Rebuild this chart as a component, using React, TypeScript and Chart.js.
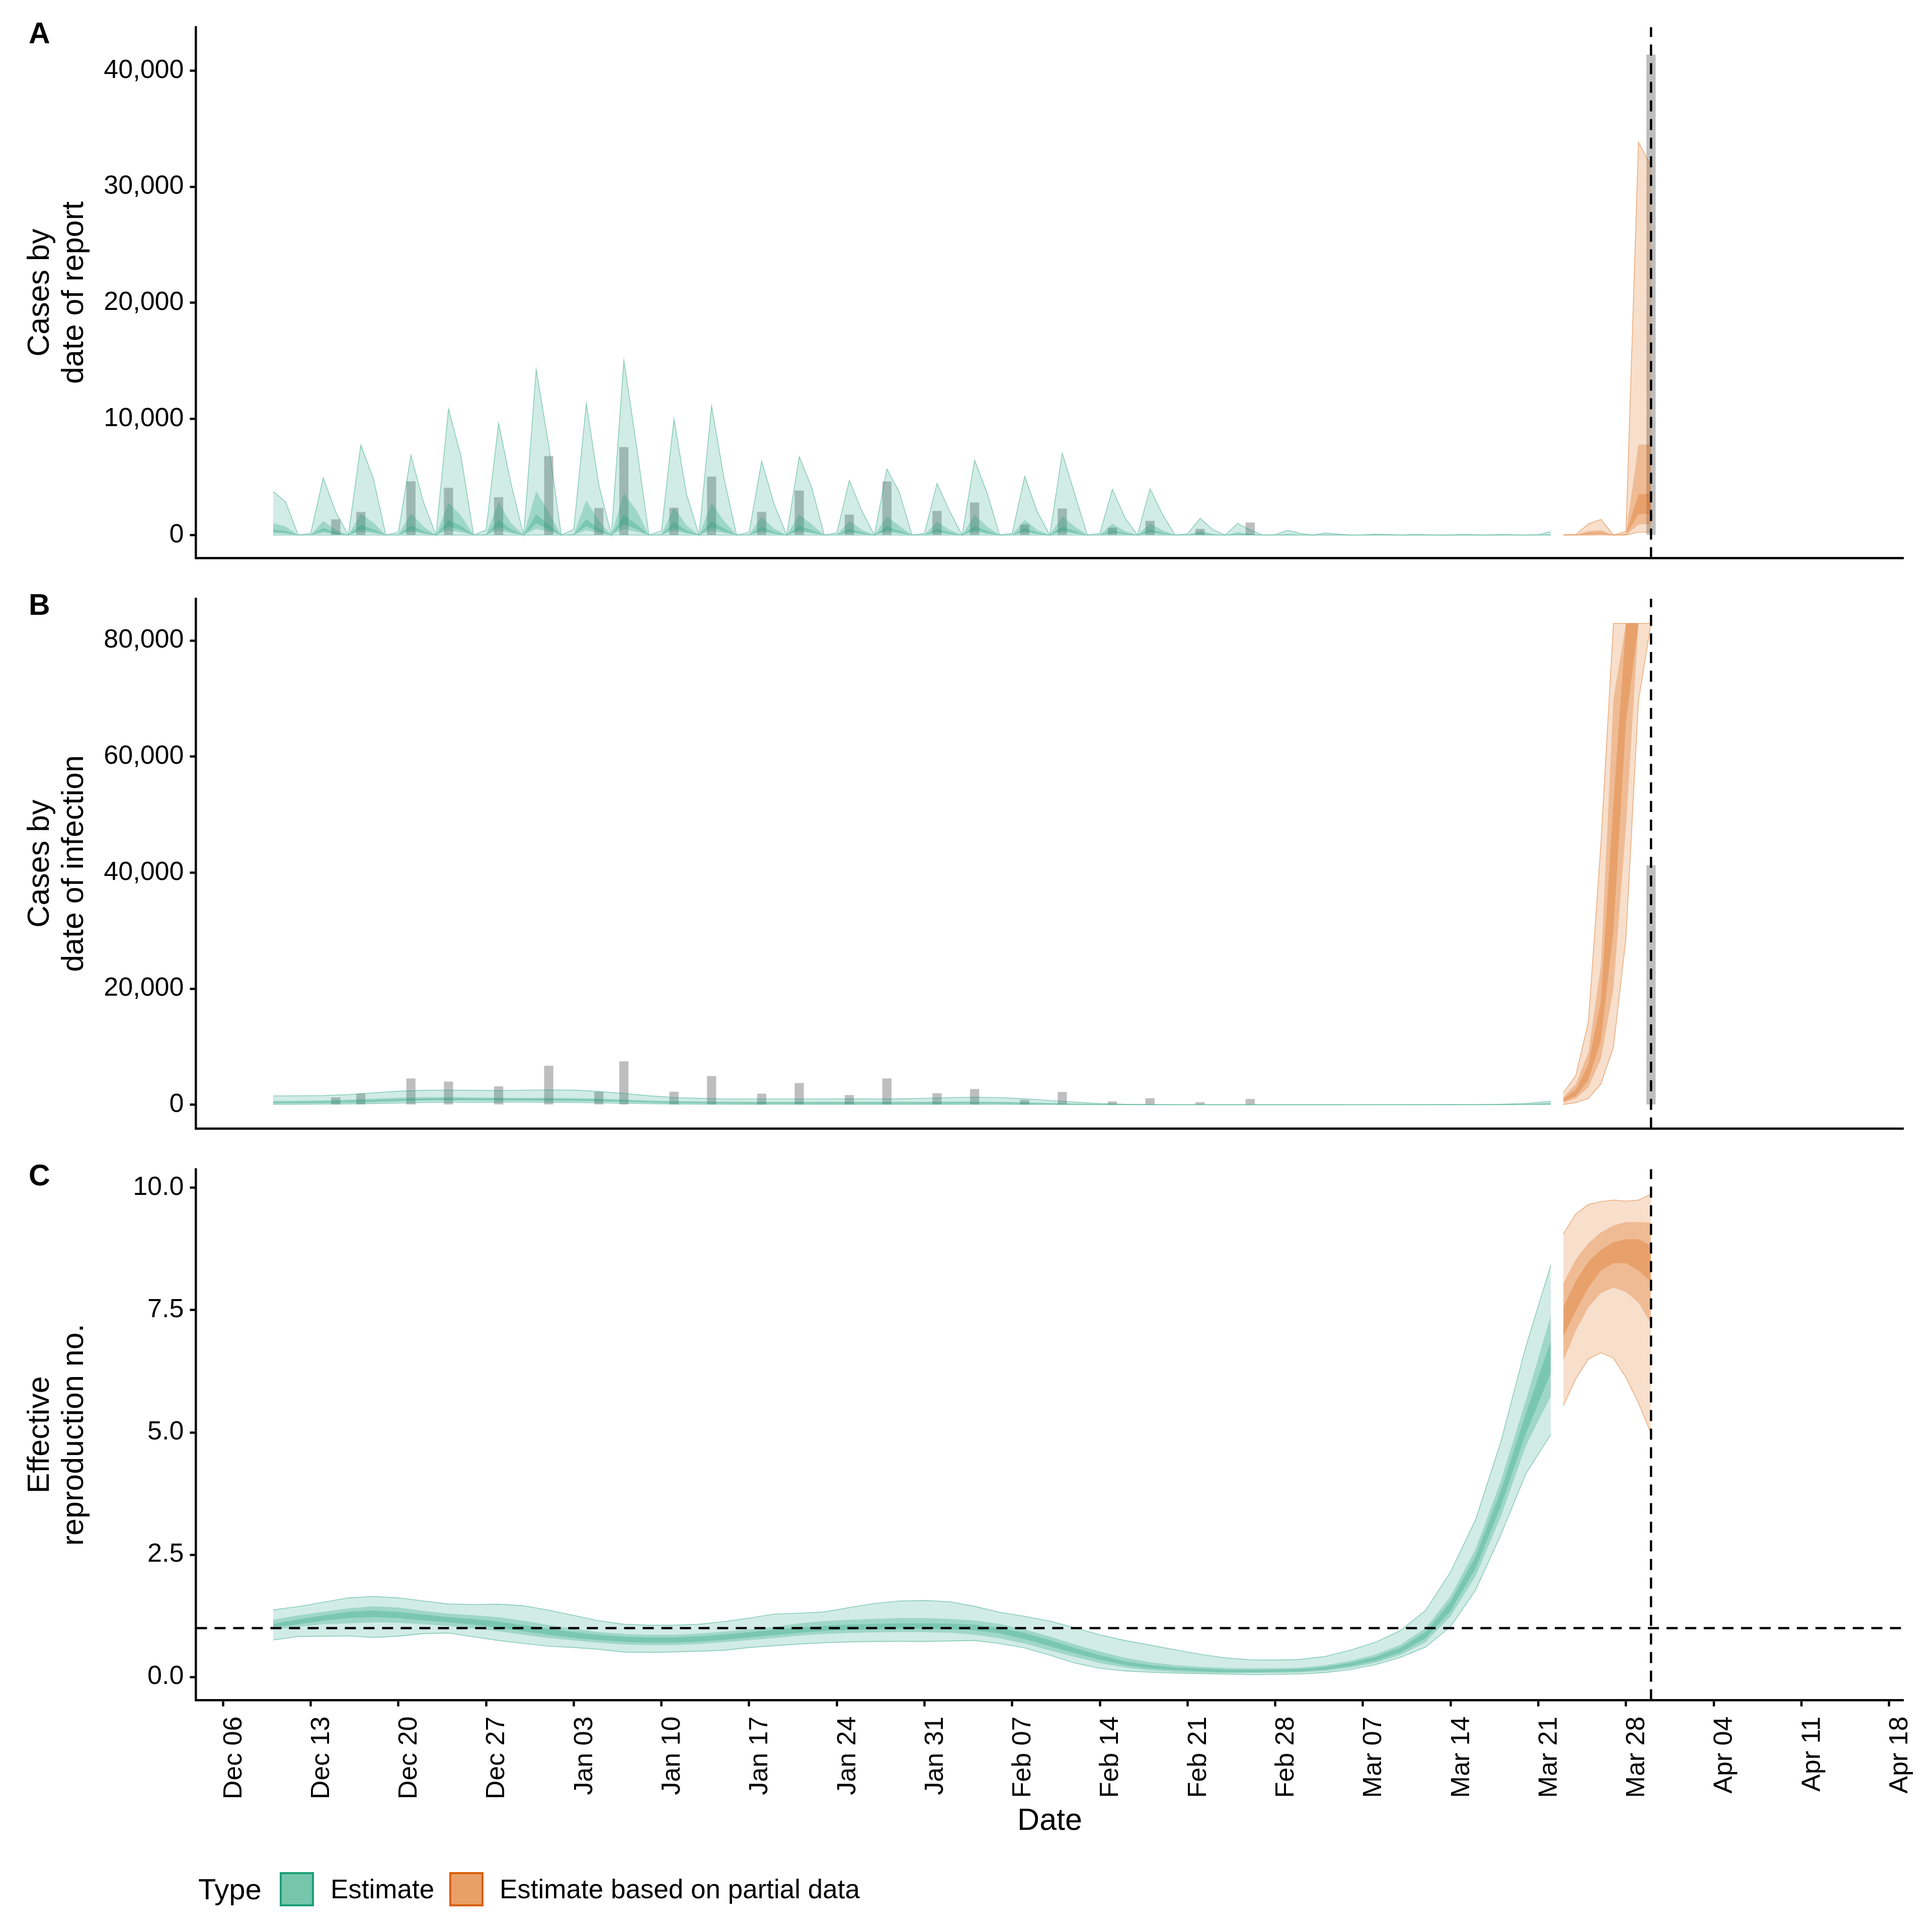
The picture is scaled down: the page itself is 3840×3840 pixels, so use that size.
import React, { useEffect, useRef } from 'react';
import { Chart, registerables } from 'chart.js';

Chart.register(...registerables);

// ---------- categories / dates ----------
const X_ORIGIN = '2020-12-06';
const estimateStart = '2020-12-10'; // daily estimates (report panel) to 2021-03-22
const partialStart = '2021-03-23'; // partial-data estimates to 2021-03-30
const smoothStart = '2020-12-10'; // infection / Rt estimates, every second day to 2021-03-22
const forecastDate = '2021-03-30';
const rtThreshold = 1;

const dateTicks = [
  '2020-12-06', '2020-12-13', '2020-12-20', '2020-12-27', '2021-01-03', '2021-01-10', '2021-01-17',
  '2021-01-24', '2021-01-31', '2021-02-07', '2021-02-14', '2021-02-21', '2021-02-28', '2021-03-07',
  '2021-03-14', '2021-03-21', '2021-03-28', '2021-04-04', '2021-04-11', '2021-04-18',
];
const dateTickLabels = [
  'Dec 06', 'Dec 13', 'Dec 20', 'Dec 27', 'Jan 03', 'Jan 10', 'Jan 17', 'Jan 24', 'Jan 31', 'Feb 07',
  'Feb 14', 'Feb 21', 'Feb 28', 'Mar 07', 'Mar 14', 'Mar 21', 'Mar 28', 'Apr 04', 'Apr 11', 'Apr 18',
];

// ---------- observed reported cases (grey bars) ----------
const reportDates = [
  '2020-12-15', '2020-12-17', '2020-12-21', '2020-12-24', '2020-12-28', '2021-01-01', '2021-01-05',
  '2021-01-07', '2021-01-11', '2021-01-14', '2021-01-18', '2021-01-21', '2021-01-25', '2021-01-28',
  '2021-02-01', '2021-02-04', '2021-02-08', '2021-02-11', '2021-02-15', '2021-02-18', '2021-02-22',
  '2021-02-26', '2021-03-30',
];
const reportedCases = [
  1440, 2080, 4710, 4160, 3350, 6890, 2420, 7660, 2440, 5120, 2080, 3920, 1850, 4710, 2170, 2890, 1000,
  2370, 730, 1310, 620, 1170, 41470,
];

// ---------- A: cases by date of report (daily, Thu..Wed rows) ----------
const repU90 = [
  3750, 2850, 0, 150, 4925, 1980, 0,
  7750, 4870, 0, 250, 6870, 2850, 0,
  10870, 6750, 0, 440, 9640, 4390, 0,
  14260, 7750, 0, 500, 11330, 4340, 0,
  15060, 7750, 0, 350, 9970, 3520, 0,
  11120, 4870, 0, 250, 6370, 2650, 0,
  6750, 4100, 0, 190, 4710, 2080, 0,
  5690, 3670, 0, 150, 4440, 2080, 0,
  6450, 3620, 0, 150, 5060, 2020, 0,
  7040, 3520, 0, 150, 3940, 1500, 0,
  4000, 1790, 0, 100, 1440, 480, 0,
  1000, 440, 0, 30, 420, 150, 0,
  180, 80, 0, 10, 80, 40, 0,
  40, 20, 0, 5, 40, 20, 0,
  50, 20, 0, 30, 300,
];
const repU50 = [
  1020, 730, 0, 30, 1210, 440, 0,
  1830, 1080, 0, 50, 1870, 730, 0,
  2790, 1690, 0, 80, 2830, 1020, 0,
  3790, 1980, 0, 90, 3000, 1210, 0,
  3580, 2170, 0, 60, 2400, 830, 0,
  2750, 1210, 0, 40, 1560, 540, 0,
  1790, 920, 0, 30, 1210, 440, 0,
  1600, 790, 0, 30, 1170, 440, 0,
  1730, 730, 0, 30, 1310, 440, 0,
  1600, 730, 0, 20, 980, 350, 0,
  1020, 400, 0, 15, 350, 110, 0,
  250, 100, 0, 5, 100, 40, 0,
  45, 20, 0, 2, 20, 10, 0,
  10, 5, 0, 1, 10, 5, 0,
  12, 5, 0, 8, 70,
];
const repU20 = [
  480, 350, 0, 15, 600, 220, 0,
  870, 500, 0, 25, 830, 340, 0,
  1310, 790, 0, 40, 1310, 480, 0,
  1790, 920, 0, 45, 1370, 560, 0,
  1730, 920, 0, 30, 1120, 390, 0,
  1210, 560, 0, 20, 730, 250, 0,
  790, 420, 0, 15, 540, 200, 0,
  750, 370, 0, 15, 540, 200, 0,
  790, 340, 0, 15, 600, 200, 0,
  730, 340, 0, 10, 400, 150, 0,
  480, 190, 0, 7, 150, 50, 0,
  120, 45, 0, 2, 45, 18, 0,
  20, 9, 0, 1, 9, 4, 0,
  5, 2, 0, 0, 5, 2, 0,
  6, 2, 0, 4, 35,
];
const repL20 = [
  260, 190, 0, 8, 330, 120, 0,
  480, 275, 0, 14, 460, 190, 0,
  720, 435, 0, 22, 720, 265, 0,
  985, 505, 0, 25, 755, 310, 0,
  950, 505, 0, 16, 615, 215, 0,
  665, 310, 0, 11, 400, 140, 0,
  435, 230, 0, 8, 300, 110, 0,
  410, 205, 0, 8, 300, 110, 0,
  435, 185, 0, 8, 330, 110, 0,
  400, 185, 0, 5, 220, 80, 0,
  265, 105, 0, 4, 80, 28, 0,
  65, 25, 0, 1, 25, 10, 0,
  11, 5, 0, 0, 5, 2, 0,
  3, 1, 0, 0, 3, 1, 0,
  3, 1, 0, 2, 19,
];
const repL50 = [
  140, 100, 0, 4, 180, 65, 0,
  260, 150, 0, 8, 250, 100, 0,
  390, 235, 0, 12, 390, 145, 0,
  540, 275, 0, 14, 410, 170, 0,
  520, 275, 0, 9, 335, 115, 0,
  360, 170, 0, 6, 220, 75, 0,
  235, 125, 0, 4, 165, 60, 0,
  225, 110, 0, 4, 165, 60, 0,
  235, 100, 0, 4, 180, 60, 0,
  220, 100, 0, 3, 120, 45, 0,
  145, 55, 0, 2, 45, 15, 0,
  35, 14, 0, 1, 14, 5, 0,
  6, 3, 0, 0, 3, 1, 0,
  2, 1, 0, 0, 2, 1, 0,
  2, 1, 0, 1, 10,
];
const repL90 = [
  0, 0, 0, 0, 0, 0, 0,
  0, 0, 0, 0, 0, 0, 0,
  0, 0, 0, 0, 0, 0, 0,
  0, 0, 0, 0, 0, 0, 0,
  0, 0, 0, 0, 0, 0, 0,
  0, 0, 0, 0, 0, 0, 0,
  0, 0, 0, 0, 0, 0, 0,
  0, 0, 0, 0, 0, 0, 0,
  0, 0, 0, 0, 0, 0, 0,
  0, 0, 0, 0, 0, 0, 0,
  0, 0, 0, 0, 0, 0, 0,
  0, 0, 0, 0, 0, 0, 0,
  0, 0, 0, 0, 0, 0, 0,
  0, 0, 0, 0, 0, 0, 0,
  0, 0, 0, 0, 0,
];
const repPartialU90 = [20, 50, 960, 1340, 0, 320, 33840, 31800];
const repPartialU50 = [5, 15, 350, 420, 0, 120, 7800, 7800];
const repPartialU20 = [3, 8, 180, 220, 0, 60, 3500, 3600];
const repPartialL20 = [1, 4, 100, 120, 0, 30, 1800, 1850];
const repPartialL50 = [0, 2, 50, 60, 0, 15, 900, 950];
const repPartialL90 = [0, 0, 5, 10, 0, 2, 250, 260];

// ---------- B: cases by date of infection (every 2nd day) ----------
const infU90 = [1516, 1540, 1574, 1747, 2050, 2325, 2480, 2527, 2480, 2440, 2510, 2556, 2520, 2300, 1950, 1550, 1250, 1111, 1000, 995, 990, 995, 1000, 1005, 1010, 1024, 1100, 1230, 1300, 1230, 1026, 737, 448, 217, 72, 25, 15, 12, 10, 10, 10, 10, 10, 12, 14, 16, 20, 28, 40, 70, 217, 592];
const infU50 = [675, 700, 760, 880, 1050, 1220, 1300, 1310, 1280, 1200, 1180, 1166, 1140, 1050, 900, 740, 640, 588, 550, 531, 525, 525, 528, 530, 532, 535, 520, 550, 560, 520, 430, 310, 190, 100, 40, 14, 8, 7, 6, 6, 6, 6, 6, 7, 8, 9, 11, 15, 22, 36, 110, 300];
const infU20 = [502, 520, 570, 660, 800, 960, 1080, 1108, 1090, 1050, 1040, 1030, 980, 880, 740, 590, 490, 444, 410, 387, 385, 385, 388, 390, 392, 395, 390, 410, 420, 390, 320, 230, 140, 75, 30, 10, 6, 5, 4, 4, 4, 4, 4, 5, 6, 7, 8, 11, 16, 27, 85, 230];
const infL20 = [300, 320, 350, 420, 530, 680, 790, 820, 810, 790, 780, 770, 720, 650, 540, 420, 330, 300, 270, 242, 240, 240, 242, 244, 245, 247, 245, 255, 260, 240, 200, 140, 85, 45, 18, 6, 3, 3, 2, 2, 2, 2, 2, 3, 3, 4, 5, 7, 10, 17, 55, 150];
const infL50 = [185, 200, 230, 290, 380, 520, 640, 675, 670, 650, 640, 630, 590, 520, 420, 310, 240, 213, 180, 156, 155, 155, 156, 157, 158, 159, 155, 165, 165, 150, 120, 85, 50, 28, 10, 3, 2, 2, 1, 1, 1, 1, 1, 2, 2, 2, 3, 4, 6, 11, 40, 110];
const infL90 = [69, 80, 100, 140, 200, 290, 380, 415, 420, 440, 430, 420, 380, 320, 240, 170, 120, 98, 80, 69, 68, 68, 69, 69, 70, 70, 70, 70, 65, 60, 50, 35, 20, 10, 5, 1, 1, 1, 0, 0, 0, 0, 0, 1, 1, 1, 1, 2, 3, 5, 20, 50];
const infPartialU90 = [2000, 5100, 14300, 45000, 82940, 82940, 82940, 82940];
const infPartialU50 = [1360, 3570, 9000, 24000, 70000, 82940, 82940, 82940];
const infPartialU20 = [1080, 2570, 7000, 18000, 52000, 82940, 82940, 82940];
const infPartialL20 = [580, 1460, 4300, 11000, 30000, 66000, 82940, 82940];
const infPartialL50 = [360, 1080, 3000, 7900, 20000, 48000, 82940, 82940];
const infPartialL90 = [50, 360, 1080, 3570, 9920, 28700, 69600, 82940];

// ---------- C: effective reproduction number (every 2nd day) ----------
const rtU90 = [1.373, 1.438, 1.528, 1.618, 1.647, 1.618, 1.554, 1.492, 1.482, 1.489, 1.456, 1.366, 1.258, 1.150, 1.078, 1.060, 1.060, 1.078, 1.132, 1.204, 1.287, 1.305, 1.330, 1.420, 1.503, 1.554, 1.564, 1.539, 1.445, 1.323, 1.240, 1.143, 1.006, 0.862, 0.746, 0.653, 0.556, 0.465, 0.393, 0.350, 0.345, 0.360, 0.420, 0.550, 0.710, 0.950, 1.360, 2.150, 3.220, 4.800, 6.750, 8.420];
const rtU50 = [1.168, 1.258, 1.330, 1.402, 1.445, 1.420, 1.348, 1.294, 1.265, 1.222, 1.150, 1.060, 0.988, 0.916, 0.880, 0.862, 0.862, 0.887, 0.927, 0.970, 1.024, 1.096, 1.143, 1.168, 1.186, 1.204, 1.204, 1.186, 1.157, 1.085, 0.970, 0.826, 0.664, 0.520, 0.393, 0.303, 0.242, 0.206, 0.184, 0.175, 0.178, 0.190, 0.240, 0.330, 0.460, 0.660, 1.000, 1.650, 2.620, 4.000, 5.650, 7.390];
const rtU20 = [1.085, 1.179, 1.258, 1.330, 1.359, 1.330, 1.276, 1.222, 1.186, 1.132, 1.060, 0.988, 0.916, 0.862, 0.826, 0.808, 0.808, 0.833, 0.869, 0.916, 0.963, 1.013, 1.049, 1.071, 1.085, 1.096, 1.096, 1.089, 1.071, 1.006, 0.898, 0.754, 0.592, 0.447, 0.321, 0.242, 0.195, 0.170, 0.148, 0.145, 0.148, 0.160, 0.205, 0.290, 0.410, 0.600, 0.920, 1.540, 2.470, 3.800, 5.380, 6.870];
const rtL20 = [1.013, 1.078, 1.150, 1.204, 1.222, 1.204, 1.157, 1.114, 1.071, 1.006, 0.934, 0.862, 0.797, 0.754, 0.718, 0.700, 0.700, 0.725, 0.761, 0.808, 0.855, 0.905, 0.941, 0.963, 0.977, 0.988, 0.988, 0.977, 0.952, 0.891, 0.772, 0.628, 0.484, 0.350, 0.242, 0.177, 0.141, 0.116, 0.098, 0.100, 0.103, 0.115, 0.150, 0.225, 0.330, 0.500, 0.790, 1.350, 2.220, 3.480, 4.970, 6.220];
const rtL50 = [0.970, 1.024, 1.078, 1.096, 1.114, 1.107, 1.078, 1.042, 0.988, 0.934, 0.862, 0.797, 0.746, 0.700, 0.664, 0.653, 0.653, 0.675, 0.711, 0.754, 0.797, 0.844, 0.880, 0.898, 0.912, 0.916, 0.916, 0.905, 0.862, 0.790, 0.682, 0.545, 0.411, 0.285, 0.195, 0.134, 0.105, 0.087, 0.076, 0.080, 0.082, 0.092, 0.125, 0.190, 0.290, 0.450, 0.710, 1.240, 2.060, 3.270, 4.720, 5.740];
const rtL90 = [0.754, 0.826, 0.833, 0.840, 0.808, 0.833, 0.887, 0.898, 0.819, 0.746, 0.682, 0.628, 0.602, 0.566, 0.509, 0.502, 0.512, 0.527, 0.545, 0.602, 0.638, 0.674, 0.700, 0.718, 0.725, 0.728, 0.725, 0.736, 0.746, 0.682, 0.592, 0.447, 0.285, 0.177, 0.123, 0.098, 0.080, 0.069, 0.058, 0.045, 0.050, 0.060, 0.090, 0.150, 0.250, 0.400, 0.610, 1.030, 1.780, 2.900, 4.150, 4.960];
const rtPartialU90 = [9.06, 9.47, 9.66, 9.72, 9.75, 9.73, 9.75, 9.87];
const rtPartialU50 = [8.05, 8.54, 8.87, 9.09, 9.23, 9.30, 9.30, 9.29];
const rtPartialU20 = [7.56, 8.10, 8.49, 8.73, 8.89, 8.95, 8.95, 8.82];
const rtPartialL20 = [6.96, 7.49, 7.96, 8.31, 8.46, 8.46, 8.31, 8.08];
const rtPartialL50 = [6.46, 7.08, 7.56, 7.85, 7.96, 7.87, 7.65, 7.22];
const rtPartialL90 = [5.55, 6.10, 6.50, 6.63, 6.52, 6.12, 5.60, 4.98];

// ---------- axis ticks ----------
const reportTicks = [0, 10000, 20000, 30000, 40000];
const infectionTicks = [0, 20000, 40000, 60000, 80000];
const rtTicks = [0, 2.5, 5, 7.5, 10];

// ---------- styling ----------
const FONT = "'Liberation Sans', Arial, Helvetica, sans-serif";
const GREEN = '27,158,119';
const ORANGE = '217,95,2';
const BAND_ALPHA = [0.2, 0.28, 0.28];
const AXIS_W = 4.5;
const TICK_FONT = 52;
const TITLE_FONT = 61;
const X_MIN = -2.165;
const X_MAX = 134.17;
const Y_AXIS_WIDTH = 389.4;
const PAD_RIGHT = 56.3;
const BAR_THICKNESS = 22.4;

const dayNum = (iso: string) => (Date.parse(iso) - Date.parse(X_ORIGIN)) / 86400000;
const daySeq = (startIso: string, n: number, step: number) => {
  const s = dayNum(startIso);
  const out: number[] = [];
  for (let i = 0; i < n; i++) out.push(s + i * step);
  return out;
};

type Band = { lo: number[]; hi: number[] };

function ribbonDatasets(xs: number[], bands: Band[], rgb: string) {
  const out: any[] = [];
  bands.forEach((b, i) => {
    const outline = i === 0;
    const lineColor = outline ? `rgba(${rgb},0.45)` : 'rgba(0,0,0,0)';
    const common = {
      type: 'line',
      borderColor: lineColor,
      borderWidth: outline ? 1.6 : 0,
      pointRadius: 0,
      pointHoverRadius: 0,
      tension: 0,
      order: 1,
    };
    out.push({ ...common, data: xs.map((x, k) => ({ x, y: b.lo[k] })), fill: false });
    out.push({
      ...common,
      data: xs.map((x, k) => ({ x, y: b.hi[k] })),
      fill: '-1',
      backgroundColor: `rgba(${rgb},${BAND_ALPHA[i]})`,
    });
  });
  return out;
}

function barDataset() {
  return {
    type: 'bar',
    data: reportDates.map((d, i) => ({ x: dayNum(d), y: reportedCases[i] })),
    backgroundColor: '#BEBEBE',
    borderColor: '#FFFFFF',
    borderWidth: 2.4,
    borderSkipped: 'start',
    barThickness: BAR_THICKNESS,
    order: 2,
  };
}

function dashed(points: { x: number; y: number }[]) {
  return {
    type: 'line',
    data: points,
    borderColor: '#000',
    borderWidth: AXIS_W,
    borderDash: [22, 15],
    pointRadius: 0,
    pointHoverRadius: 0,
    fill: false,
    order: 0,
  };
}

type PanelCfg = {
  datasets: any[];
  yMin: number;
  yMax: number;
  yTicks: number[];
  yFmt: (v: number) => string;
  yTitle: string[];
  padTop: number;
  padBottom: number;
  xAxisHeight: number;
  showX: boolean;
};

function buildConfig(p: PanelCfg): any {
  const tickDays = dateTicks.map(dayNum);
  return {
    type: 'line',
    data: { datasets: p.datasets },
    options: {
      animation: false,
      responsive: false,
      maintainAspectRatio: false,
      devicePixelRatio: 1,
      events: [],
      layout: { padding: { left: 0, right: PAD_RIGHT, top: p.padTop, bottom: p.padBottom } },
      plugins: { legend: { display: false }, tooltip: { enabled: false }, title: { display: false } },
      scales: {
        x: {
          type: 'linear',
          min: X_MIN,
          max: X_MAX,
          offset: false,
          afterBuildTicks: (s: any) => {
            s.ticks = tickDays.map((v) => ({ value: v }));
          },
          afterFit: (s: any) => {
            s.height = p.xAxisHeight;
            s.paddingLeft = 0;
            s.paddingRight = 0;
            s.paddingTop = 0;
            s.paddingBottom = 0;
          },
          ticks: {
            display: p.showX,
            autoSkip: false,
            maxRotation: 90,
            minRotation: 90,
            padding: 20,
            labelOffset: 22,
            color: '#000',
            font: { family: FONT, size: TICK_FONT },
            callback: (v: number) => {
              const i = tickDays.findIndex((t) => Math.abs(t - v) < 1e-6);
              return i >= 0 ? dateTickLabels[i] : '';
            },
          },
          grid: p.showX
            ? {
                display: true,
                drawOnChartArea: false,
                drawTicks: true,
                tickLength: 12,
                tickWidth: AXIS_W,
                tickColor: '#000',
                color: '#000',
                offset: false,
              }
            : { display: false, drawTicks: false },
          border: { display: true, color: '#000', width: AXIS_W },
          title: p.showX
            ? {
                display: true,
                text: 'Date',
                color: '#000',
                font: { family: FONT, size: TITLE_FONT, lineHeight: 1.2 },
                padding: { top: 0, bottom: 43 },
              }
            : { display: false },
        },
        y: {
          type: 'linear',
          min: p.yMin,
          max: p.yMax,
          afterBuildTicks: (s: any) => {
            s.ticks = p.yTicks.map((v) => ({ value: v }));
          },
          afterFit: (s: any) => {
            s.width = Y_AXIS_WIDTH;
            s.paddingTop = 0;
            s.paddingBottom = 0;
          },
          ticks: {
            padding: 12,
            color: '#000',
            font: { family: FONT, size: TICK_FONT },
            callback: (v: number) => p.yFmt(v),
          },
          grid: {
            display: true,
            drawOnChartArea: false,
            drawTicks: true,
            tickLength: 12,
            tickWidth: AXIS_W,
            tickColor: '#000',
            color: '#000',
          },
          border: { display: true, color: '#000', width: AXIS_W },
          title: {
            display: true,
            text: p.yTitle,
            color: '#000',
            font: { family: FONT, size: TITLE_FONT, lineHeight: 1.115 },
            padding: { top: 46, bottom: 0 },
          },
        },
      },
    },
  };
}

const fmtThousands = (v: number) => Math.round(v).toLocaleString('en-US');
const fmtOne = (v: number) => v.toFixed(1);

export default function App() {
  const refA = useRef<HTMLCanvasElement>(null);
  const refB = useRef<HTMLCanvasElement>(null);
  const refC = useRef<HTMLCanvasElement>(null);

  useEffect(() => {
    Chart.defaults.font.family = FONT;
    Chart.defaults.color = '#000';

    const xDaily = daySeq(estimateStart, repU90.length, 1);
    const xPartial = daySeq(partialStart, repPartialU90.length, 1);
    const xSmooth = daySeq(smoothStart, rtU90.length, 2);
    const fx = dayNum(forecastDate);

    const aMin = -1990, aMax = 43743;
    const bMin = -4100, bMax = 87200;
    const cMin = -0.478, cMax = 10.38;

    const dsA = [
      barDataset(),
      ...ribbonDatasets(xDaily, [
        { lo: repL90, hi: repU90 },
        { lo: repL50, hi: repU50 },
        { lo: repL20, hi: repU20 },
      ], GREEN),
      ...ribbonDatasets(xPartial, [
        { lo: repPartialL90, hi: repPartialU90 },
        { lo: repPartialL50, hi: repPartialU50 },
        { lo: repPartialL20, hi: repPartialU20 },
      ], ORANGE),
      dashed([{ x: fx, y: aMin }, { x: fx, y: aMax }]),
    ];
    const dsB = [
      barDataset(),
      ...ribbonDatasets(xSmooth, [
        { lo: infL90, hi: infU90 },
        { lo: infL50, hi: infU50 },
        { lo: infL20, hi: infU20 },
      ], GREEN),
      ...ribbonDatasets(xPartial, [
        { lo: infPartialL90, hi: infPartialU90 },
        { lo: infPartialL50, hi: infPartialU50 },
        { lo: infPartialL20, hi: infPartialU20 },
      ], ORANGE),
      dashed([{ x: fx, y: bMin }, { x: fx, y: bMax }]),
    ];
    const dsC = [
      ...ribbonDatasets(xSmooth, [
        { lo: rtL90, hi: rtU90 },
        { lo: rtL50, hi: rtU50 },
        { lo: rtL20, hi: rtU20 },
      ], GREEN),
      ...ribbonDatasets(xPartial, [
        { lo: rtPartialL90, hi: rtPartialU90 },
        { lo: rtPartialL50, hi: rtPartialU50 },
        { lo: rtPartialL20, hi: rtPartialU20 },
      ], ORANGE),
      dashed([{ x: X_MIN, y: rtThreshold }, { x: X_MAX, y: rtThreshold }]),
      dashed([{ x: fx, y: cMin }, { x: fx, y: cMax }]),
    ];

    const charts = [
      new Chart(refA.current as HTMLCanvasElement, buildConfig({
        datasets: dsA, yMin: aMin, yMax: aMax, yTicks: reportTicks, yFmt: fmtThousands,
        yTitle: ['Cases by', 'date of report'], padTop: 53.9, padBottom: 20.6, xAxisHeight: 0, showX: false,
      })),
      new Chart(refB.current as HTMLCanvasElement, buildConfig({
        datasets: dsB, yMin: bMin, yMax: bMax, yTicks: infectionTicks, yFmt: fmtThousands,
        yTitle: ['Cases by', 'date of infection'], padTop: 60, padBottom: 17, xAxisHeight: 0, showX: false,
      })),
      new Chart(refC.current as HTMLCanvasElement, buildConfig({
        datasets: dsC, yMin: cMin, yMax: cMax, yTicks: rtTicks, yFmt: fmtOne,
        yTitle: ['Effective', 'reproduction no.'], padTop: 64, padBottom: 0, xAxisHeight: 320.4, showX: true,
      })),
    ];
    return () => charts.forEach((c) => c.destroy());
  }, []);

  const label = (text: string, top: number) => (
    <div style={{ position: 'absolute', left: 57, top, fontSize: 59, lineHeight: '59px', fontWeight: 'bold', fontFamily: FONT, color: '#000' }}>{text}</div>
  );
  const legendText = (text: string, left: number, size: number) => (
    <div style={{ position: 'absolute', left, top: 3720, height: 70, lineHeight: '70px', fontSize: size, fontFamily: FONT, color: '#000', whiteSpace: 'nowrap' }}>{text}</div>
  );
  const key = (left: number, fill: string, border: string) => (
    <div style={{ position: 'absolute', left, top: 3721, width: 68, height: 68, boxSizing: 'border-box', border: `4.5px solid ${border}`, background: fill }} />
  );

  return (
    <div style={{ position: 'absolute', left: 0, top: 0, width: 3840, height: 3840, background: '#fff', overflow: 'hidden' }}>
      <canvas ref={refA} width={3840} height={1130} style={{ position: 'absolute', left: 0, top: 0, width: 3840, height: 1130 }} />
      <canvas ref={refB} width={3840} height={1130} style={{ position: 'absolute', left: 0, top: 1130, width: 3840, height: 1130 }} />
      <canvas ref={refC} width={3840} height={1440} style={{ position: 'absolute', left: 0, top: 2260, width: 3840, height: 1440 }} />
      {label('A', 36.6)}
      {label('B', 1172.7)}
      {label('C', 2306.7)}
      {legendText('Type', 394, 58)}
      {key(556, 'rgb(118,198,171)', '#1B9E77')}
      {legendText('Estimate', 657, 53)}
      {key(893, 'rgb(232,160,104)', '#D95F02')}
      {legendText('Estimate based on partial data', 993, 53)}
    </div>
  );
}
